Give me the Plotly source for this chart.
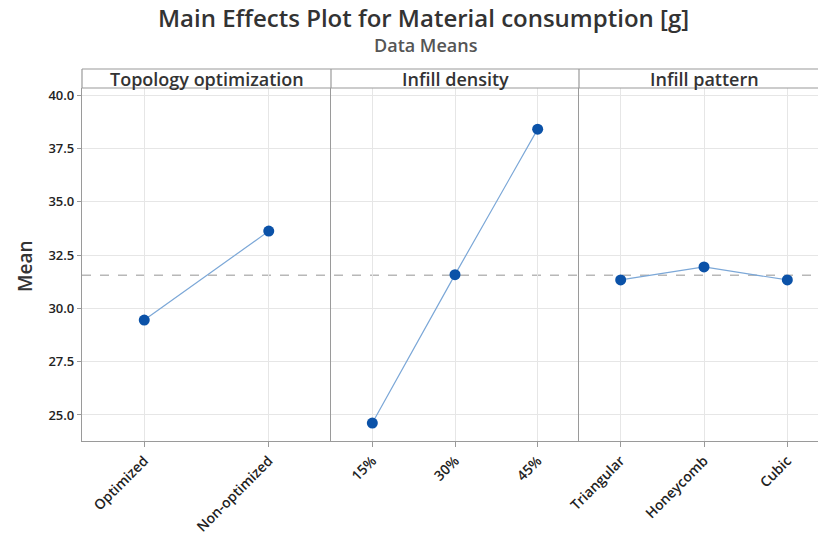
import plotly.graph_objects as go

# Factor levels and their data means of material consumption [g]
topology_levels = ["Optimized", "Non-optimized"]
topology_means = [29.45, 33.62]

density_levels = ["15%", "30%", "45%"]
density_means = [24.62, 31.58, 38.40]

pattern_levels = ["Triangular", "Honeycomb", "Cubic"]
pattern_means = [31.33, 31.94, 31.33]

panel_titles = ["Topology optimization", "Infill density", "Infill pattern"]
grand_mean = 31.55
y_ticks = [25.0, 27.5, 30.0, 32.5, 35.0, 37.5, 40.0]

W, H = 818, 544
FONT = "Open Sans"
LINE_C = "#7ba7d7"
MARK_C = "#0b52a8"
FRAME_C = "#9a9a9a"
GRID_C = "#e6e6e6"

def px_x(p):
    return p / W

def px_y(p):
    return 1 - p / H

x_edges = [82, 331, 579, 818]
plot_top, plot_bot, strip_top = 88, 441, 69

fig = go.Figure()
panels = [(topology_levels, topology_means),
          (density_levels, density_means),
          (pattern_levels, pattern_means)]

for i, (lev, val) in enumerate(panels):
    k = "" if i == 0 else str(i + 1)
    fig.add_trace(go.Scatter(
        x=lev, y=val, mode="lines+markers",
        line=dict(color=LINE_C, width=1.2),
        marker=dict(color=MARK_C, size=11),
        xaxis="x" + k, yaxis="y" + k, showlegend=False,
        hoverinfo="skip"))

layout = dict(
    width=W, height=H,
    margin=dict(l=0, r=0, t=0, b=0),
    paper_bgcolor="white", plot_bgcolor="white",
    font=dict(family=FONT, color="#333333"),
    showlegend=False,
)

# third panel's right part runs past the visible edge
x_ranges = [[-0.5, 1.5], [-0.5, 2.5], [-0.5, 2.5 - 11 / 83.3]]

for i in range(3):
    k = "" if i == 0 else str(i + 1)
    layout["xaxis" + k] = dict(
        domain=[px_x(x_edges[i]), px_x(x_edges[i + 1])],
        anchor="y" + k, type="category", range=x_ranges[i],
        showgrid=True, gridcolor=GRID_C, gridwidth=1,
        showline=True, linecolor=FRAME_C, linewidth=1.2,
        ticks="outside", ticklen=5, tickcolor=FRAME_C,
        tickangle=-45, automargin=False,
        tickfont=dict(family=FONT, size=14, color="#222222", weight=600),
        zeroline=False, fixedrange=True,
    )
    ya = dict(
        domain=[px_y(plot_bot), px_y(plot_top)],
        anchor="x" + k, range=[23.78, 40.33],
        tickvals=y_ticks, ticktext=[f"{v:.1f}" for v in y_ticks],
        showgrid=True, gridcolor=GRID_C, gridwidth=1,
        showline=True, linecolor=FRAME_C, linewidth=1.2,
        zeroline=False, automargin=False, fixedrange=True,
    )
    if i == 0:
        ya.update(ticks="outside", ticklen=4, tickcolor=FRAME_C,
                  tickfont=dict(family=FONT, size=13, color="#222222", weight=600))
    else:
        ya.update(showticklabels=False, ticks="", matches="y")
    layout["yaxis" + k] = ya

fig.update_layout(**layout)

shapes = []
# reference line at the grand mean across all panels
shapes.append(dict(type="line", xref="paper", yref="y",
                   x0=px_x(x_edges[0]), x1=1, y0=grand_mean, y1=grand_mean,
                   line=dict(color="#b8b8b8", width=1.3, dash="dash"), layer="below"))
# panel header strip
shapes.append(dict(type="line", xref="paper", yref="paper",
                   x0=px_x(x_edges[0]), x1=1, y0=px_y(strip_top), y1=px_y(strip_top),
                   line=dict(color=FRAME_C, width=1.2)))
shapes.append(dict(type="line", xref="paper", yref="paper",
                   x0=px_x(x_edges[0]), x1=1, y0=px_y(plot_top), y1=px_y(plot_top),
                   line=dict(color=FRAME_C, width=1.2)))
for xe in x_edges[:3]:
    shapes.append(dict(type="line", xref="paper", yref="paper",
                       x0=px_x(xe), x1=px_x(xe), y0=px_y(strip_top), y1=px_y(plot_top),
                       line=dict(color=FRAME_C, width=1.2)))
fig.update_layout(shapes=shapes)

annotations = []
strip_centers = [(82 + 331) / 2, (331 + 579) / 2, (579 + 829) / 2]
for t, cx in zip(panel_titles, strip_centers):
    annotations.append(dict(text=t, x=px_x(cx), y=px_y((strip_top + plot_top) / 2 + 1),
                            xref="paper", yref="paper", showarrow=False,
                            xanchor="center", yanchor="middle",
                            font=dict(family=FONT, size=18, color="#333333", weight=600)))
annotations.append(dict(text="Main Effects Plot for Material consumption [g]",
                        x=px_x(424), y=px_y(18), xref="paper", yref="paper",
                        showarrow=False, xanchor="center", yanchor="middle",
                        font=dict(family=FONT, size=24, color="#333333", weight=600)))
annotations.append(dict(text="Data Means",
                        x=px_x(426), y=px_y(45), xref="paper", yref="paper",
                        showarrow=False, xanchor="center", yanchor="middle",
                        font=dict(family=FONT, size=18, color="#555555", weight=600)))
annotations.append(dict(text="Mean", x=px_x(25), y=px_y(266),
                        xref="paper", yref="paper", showarrow=False, textangle=-90,
                        xanchor="center", yanchor="middle",
                        font=dict(family=FONT, size=19, color="#333333", weight=600)))
fig.update_layout(annotations=annotations)

fig.write_html("out.html")
